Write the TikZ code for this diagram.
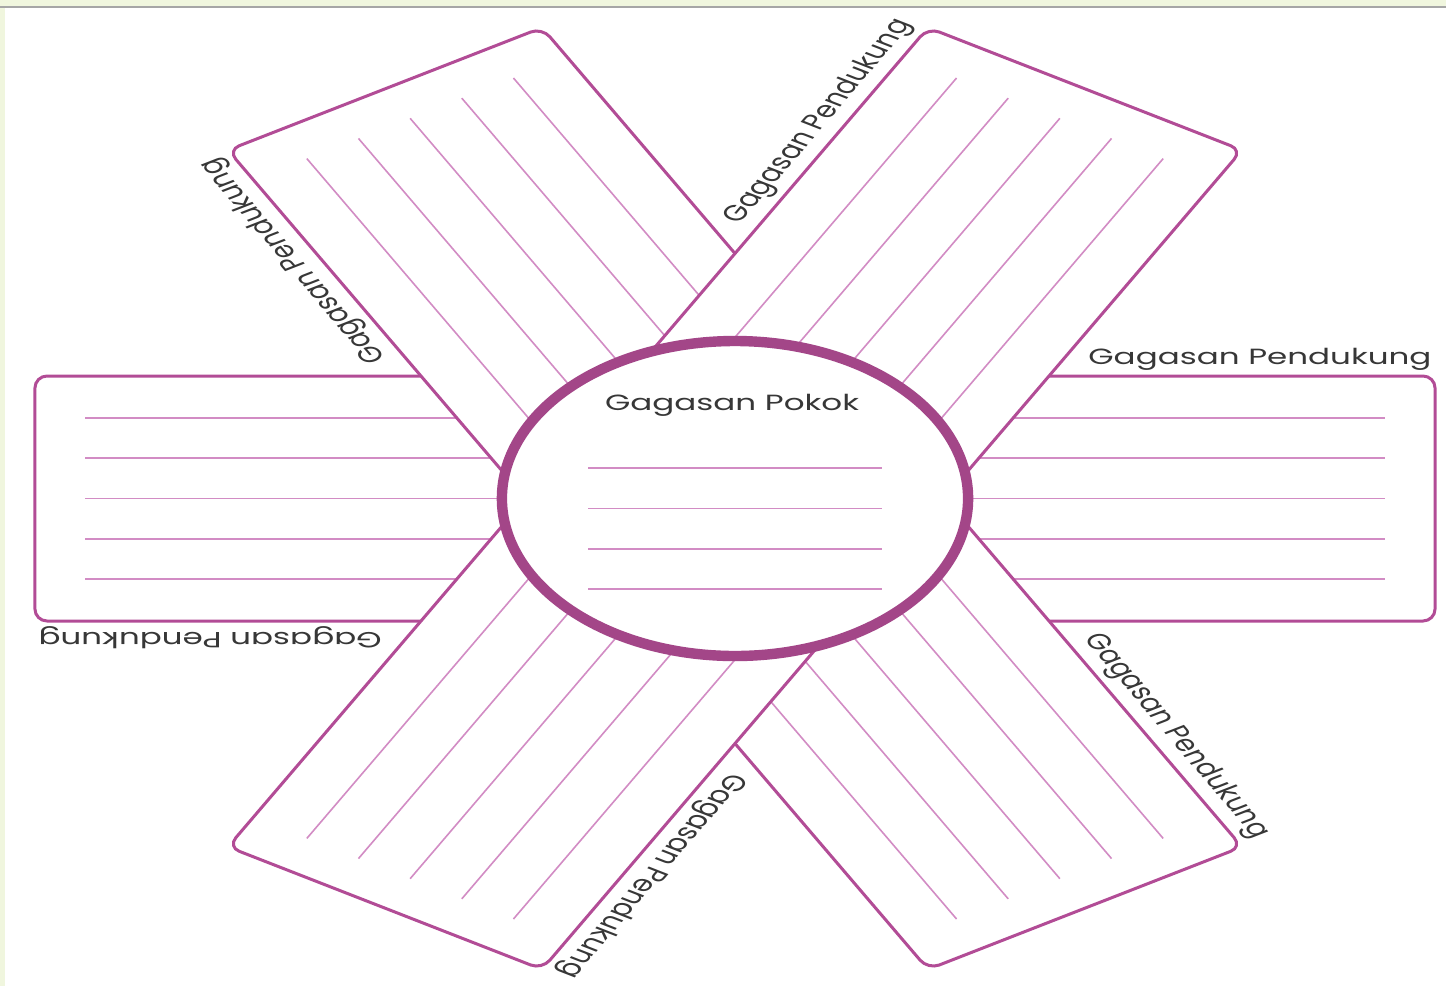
\documentclass[tikz,border=0pt]{standalone}
\usepackage{fontspec}
\setmainfont{Poppins}
\definecolor{bandpurple}{RGB}{178,76,150}
\definecolor{ringpurple}{RGB}{163,70,136}
\definecolor{stripepink}{RGB}{210,140,196}
\definecolor{labelgray}{RGB}{55,55,55}
\definecolor{pagegreen}{RGB}{240,246,222}
\begin{document}
\begin{tikzpicture}[x=0.5pt,y=0.5pt,
    band/.style={draw=bandpurple,line width=1.5pt,fill=white,rounded corners=6pt},
    stripe/.style={draw=stripepink,line width=0.8pt},
    ring/.style={draw=ringpurple,line width=5.2pt,fill=white},
    lbl/.style={font=\fontsize{11}{12}\selectfont,text=labelgray,inner sep=0pt}]
  \useasboundingbox (0,0) rectangle (1446,-986);
  \fill[pagegreen] (0,0) rectangle (1446,-7);
  \fill[pagegreen] (0,-7) rectangle (5,-986);
  \draw[gray!70,line width=0.6pt] (0,-7) -- (1446,-7);
  \begin{scope}[shift={(735,-498.5)},xscale=1.48,transform shape]
    % three crossing bands, the last one on top
    \foreach \ang in {0,120,60}{
      \begin{scope}[rotate=\ang]
        \draw[band] (-473,-122.5) -- (473,-122.5) -- (473,122.5) -- (-473,122.5) -- cycle;
        \foreach \k in {-2,...,2}
          \draw[stripe] (-439,\k*40.3) -- (439,\k*40.3);
      \end{scope}
    }
    \draw[ring] (0,0) circle (157.5);
    \node[lbl,anchor=base] (pokok) at (-2,88) {Gagasan Pokok};
    \foreach \v in {30.5,-10,-50.5,-90.5}
      \draw[stripe] (-99.3,\v) -- (99.3,\v);
    % one label at the tip of every arm
    \foreach \ang in {0,60,...,300}{
      \begin{scope}[rotate=\ang]
        \node[lbl,anchor=base east] (pend\ang) at (471,134) {Gagasan Pendukung};
      \end{scope}
    }
  \end{scope}
\end{tikzpicture}
\end{document}
